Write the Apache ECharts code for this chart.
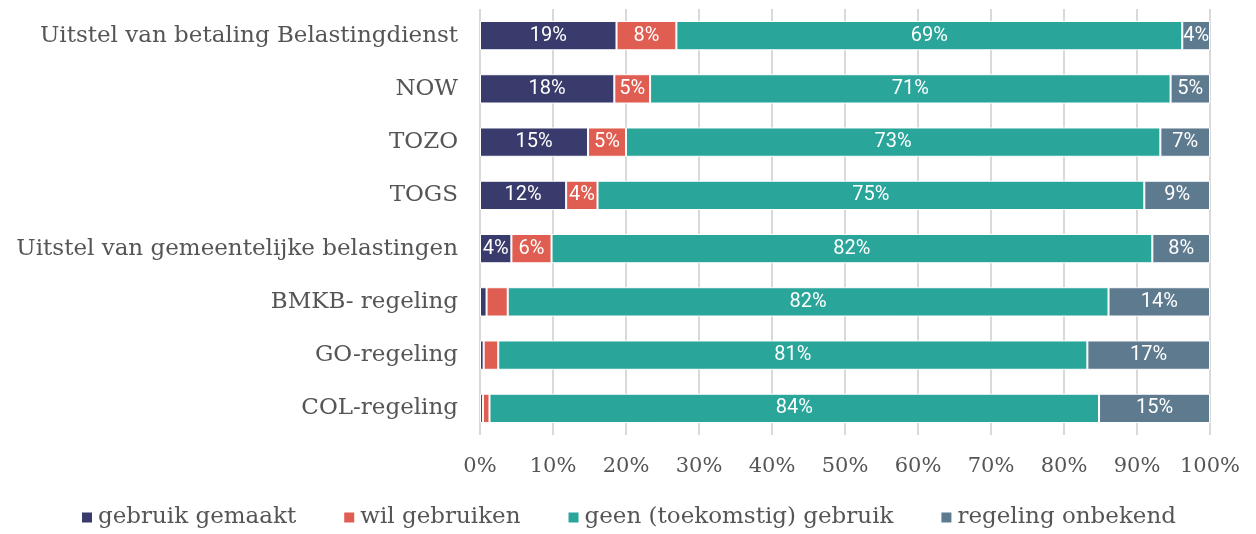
<!DOCTYPE html>
<html>
<head>
<meta charset="utf-8">
<script src="https://cdn.jsdelivr.net/npm/echarts@6/dist/echarts.min.js"></script>
<style>
  html, body { margin: 0; padding: 0; background: #fff; }
  #chart { width: 1256px; height: 534px; }
</style>
</head>
<body>
<div id="chart"></div>
<script>
// categorieën (van boven naar beneden)
var categories = [
  "Uitstel van betaling Belastingdienst",
  "NOW",
  "TOZO",
  "TOGS",
  "Uitstel van gemeentelijke belastingen",
  "BMKB- regeling",
  "GO-regeling",
  "COL-regeling"
];
var seriesNames = ["gebruik gemaakt", "wil gebruiken", "geen (toekomstig) gebruik", "regeling onbekend"];
// waarden in procenten
var gebruikGemaakt = [18.7, 18.4, 14.8, 11.8, 4.3, 0.9, 0.5, 0.4];
var wilGebruiken = [8.2, 4.9, 5.2, 4.3, 5.5, 2.9, 2.0, 0.9];
var geenGebruik = [69.3, 71.3, 73.2, 74.9, 82.3, 82.3, 80.7, 83.5];
var onbekend = [3.8, 5.4, 6.8, 9.0, 7.9, 13.9, 16.8, 15.2];
var xTicks = [0, 10, 20, 30, 40, 50, 60, 70, 80, 90, 100];

var colors = ["#383b6b", "#e05d51", "#29a59a", "#5e7a8f"];
var allData = [gebruikGemaakt, wilGebruiken, geenGebruik, onbekend];

var myChart = echarts.init(document.getElementById("chart"));

var series = allData.map(function (d, i) {
  return {
    name: seriesNames[i],
    type: "bar",
    stack: "totaal",
    barCategoryGap: "45%",
    data: d,
    itemStyle: { color: colors[i], borderColor: "#ffffff", borderWidth: 1 },
    label: {
      show: true,
      position: "inside",
      color: "#ffffff",
      fontFamily: "Roboto",
      fontSize: 20,
      formatter: function (p) {
        // kleine stukjes geen label
        return p.value < 3 ? "" : Math.round(p.value) + "%";
      }
    }
  };
});

var option = {
  animation: false,
  color: colors,
  grid: { left: 480, right: 46, top: 9, bottom: 99 },
  legend: {
    bottom: 0,
    left: "center",
    icon: "rect",
    itemWidth: 12,
    itemHeight: 12,
    itemGap: 46,
    textStyle: { fontFamily: "DejaVu Serif", fontSize: 23, color: "#555555" },
    data: seriesNames
  },
  xAxis: {
    type: "value",
    min: 0,
    max: 100,
    interval: 10,
    axisLine: { show: false },
    axisTick: { show: false },
    splitLine: { show: true, lineStyle: { color: "#d9d9d9", width: 2 } },
    axisLabel: {
      margin: 21,
      fontFamily: "DejaVu Serif",
      fontSize: 21,
      color: "#555555",
      formatter: function (v) { return xTicks.indexOf(v) >= 0 ? v + "%" : ""; }
    }
  },
  yAxis: {
    type: "category",
    inverse: true,
    data: categories,
    axisLine: { show: false },
    axisTick: { show: false },
    axisLabel: {
      margin: 22,
      fontFamily: "DejaVu Serif",
      fontSize: 23,
      color: "#555555"
    }
  },
  series: series
};

myChart.setOption(option);
window.addEventListener("resize", function () {
  myChart.resize();
});
</script>
</body>
</html>
